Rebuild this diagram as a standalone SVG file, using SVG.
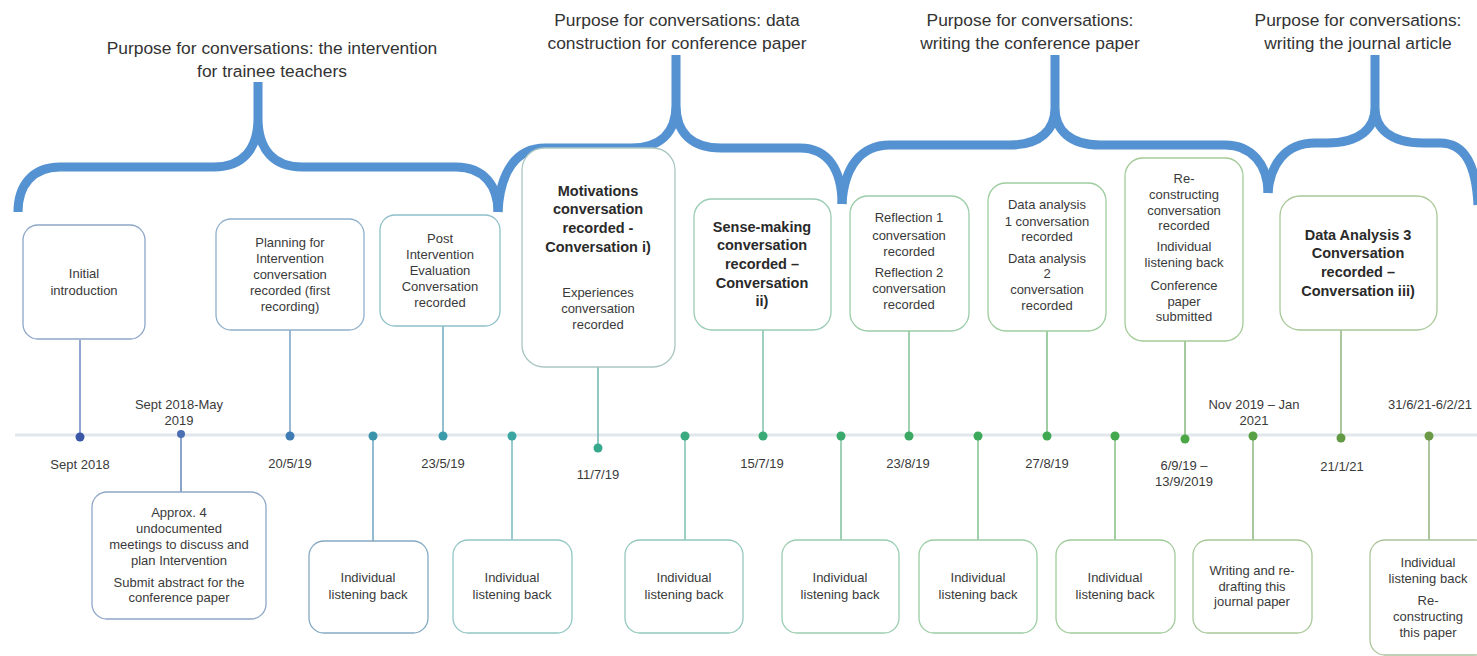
<svg xmlns="http://www.w3.org/2000/svg" width="1477" height="656" viewBox="0 0 1477 656">
<style>
text{font-family:"Liberation Sans",Arial,sans-serif;fill:#3a3a3a;text-anchor:middle}
.t{font-size:17.4px;fill:#333}
.n{font-size:13px}
.b{font-size:14.5px;font-weight:bold;fill:#2a2a2a}
.d{font-size:13px}
.box{fill:#fff;stroke-width:1.3}
.brace{fill:none;stroke:#5592d2;stroke-width:9;stroke-linecap:butt;stroke-linejoin:round}
.con line{stroke-width:1.5}
</style>
<rect width="1477" height="656" fill="#fff"/>
<g id="braces">
<path class="brace" d="M18,212 C18,186 32,167 60,167 L214,167 C242,167 258,150 258,118 M258,124 L258,82 M258,118 C258,150 274,167 302,167 L456,167 C484,167 498,186 498,212"/>
<path class="brace" d="M498,212 C500,172 516,148 545,148 L631,148 C660,148 676,133 676,105 M676,110 L676,55 M676,105 C676,133 692,148 721,148 L800,148 C828,148 842,170 842,204"/>
<path class="brace" d="M842,204 C844,168 860,145 890,145 L1010,145 C1040,145 1055,130 1055,108 M1055,112 L1055,55 M1055,108 C1055,130 1070,145 1100,145 L1225,145 C1252,145 1268,165 1268,193"/>
<path class="brace" d="M1268,193 C1270,165 1285,143 1315,143 L1327,143 C1360,143 1375,128 1375,108 M1375,112 L1375,55 M1375,108 C1375,128 1390,143 1423,143 L1440,143 C1465,143 1476,165 1478,205"/>
</g>
<g id="titles">
<text class="t" x="272" y="54">Purpose for conversations: the intervention</text>
<text class="t" x="272" y="77">for trainee teachers</text>
<text class="t" x="677" y="26">Purpose for conversations: data</text>
<text class="t" x="677" y="49">construction for conference paper</text>
<text class="t" x="1030" y="26">Purpose for conversations:</text>
<text class="t" x="1030" y="49">writing the conference paper</text>
<text class="t" x="1358" y="26">Purpose for conversations:</text>
<text class="t" x="1358" y="49">writing the journal article</text>
</g>
<line id="timeline" x1="15" y1="435" x2="1477" y2="435" stroke="#e2e7eb" stroke-width="3"/>
<g id="connectors" class="con">
<line x1="80" y1="340" x2="80" y2="436" stroke="#6d88c2"/>
<line x1="181" y1="434" x2="181" y2="492" stroke="#6583b8"/>
<line x1="290" y1="330" x2="290" y2="436" stroke="#7aa0c4"/>
<line x1="373" y1="436" x2="373" y2="541" stroke="#6fa4bf"/>
<line x1="443" y1="326" x2="443" y2="436" stroke="#6eaabd"/>
<line x1="512" y1="436" x2="512" y2="540" stroke="#78b8bb"/>
<line x1="598" y1="367" x2="598" y2="448" stroke="#6db4ae"/>
<line x1="685" y1="436" x2="685" y2="540" stroke="#7cc0b0"/>
<line x1="763" y1="330" x2="763" y2="436" stroke="#7cc0a8"/>
<line x1="841" y1="436" x2="841" y2="540" stroke="#7ec29e"/>
<line x1="909" y1="331" x2="909" y2="436" stroke="#7fc296"/>
<line x1="978" y1="436" x2="978" y2="540" stroke="#80c290"/>
<line x1="1047" y1="331" x2="1047" y2="436" stroke="#7ebe86"/>
<line x1="1115" y1="436" x2="1115" y2="540" stroke="#84be84"/>
<line x1="1185" y1="341" x2="1185" y2="439" stroke="#86ba7e"/>
<line x1="1253" y1="436" x2="1253" y2="540" stroke="#8ab67e"/>
<line x1="1341" y1="330" x2="1341" y2="438" stroke="#8eb47e"/>
<line x1="1429" y1="436" x2="1429" y2="540" stroke="#92b080"/>
</g>
<g id="dots">
<circle cx="80" cy="437" r="4.5" fill="#3b56a6"/>
<circle cx="181" cy="434" r="4" fill="#4a6fb2"/>
<circle cx="290" cy="436" r="4.5" fill="#3f7bb5"/>
<circle cx="373" cy="436" r="4.5" fill="#3a95ab"/>
<circle cx="443" cy="436" r="4.5" fill="#3a9bab"/>
<circle cx="512" cy="436" r="4.5" fill="#3aa6a2"/>
<circle cx="598" cy="448" r="4.5" fill="#36a88c"/>
<circle cx="685" cy="436" r="4.5" fill="#3aaa80"/>
<circle cx="763" cy="436" r="4.5" fill="#3aaa76"/>
<circle cx="841" cy="436" r="4.5" fill="#3aaa6c"/>
<circle cx="909" cy="436" r="4.5" fill="#3aa862"/>
<circle cx="978" cy="436" r="4.5" fill="#3ca85a"/>
<circle cx="1047" cy="436" r="4.5" fill="#3ea852"/>
<circle cx="1115" cy="436" r="4.5" fill="#44a84c"/>
<circle cx="1185" cy="439" r="4.5" fill="#4ca646"/>
<circle cx="1253" cy="436" r="4.5" fill="#58a044"/>
<circle cx="1341" cy="438" r="4.5" fill="#629a44"/>
<circle cx="1429" cy="436" r="4.5" fill="#6a9a46"/>
</g>
<g id="dates">
<text class="d" x="80" y="469">Sept 2018</text>
<text class="d" x="179" y="409">Sept 2018-May</text>
<text class="d" x="179" y="425">2019</text>
<text class="d" x="290" y="468">20/5/19</text>
<text class="d" x="443" y="468">23/5/19</text>
<text class="d" x="598" y="479">11/7/19</text>
<text class="d" x="762" y="468">15/7/19</text>
<text class="d" x="908" y="468">23/8/19</text>
<text class="d" x="1047" y="468">27/8/19</text>
<text class="d" x="1184" y="470">6/9/19 –</text>
<text class="d" x="1184" y="486">13/9/2019</text>
<text class="d" x="1254" y="409">Nov 2019 – Jan</text>
<text class="d" x="1254" y="425">2021</text>
<text class="d" x="1342" y="471">21/1/21</text>
<text class="d" x="1430" y="409">31/6/21-6/2/21</text>
</g>
<g id="n-initial">
<rect class="box" x="23" y="225" width="122" height="114" rx="15" stroke="#8da6c8"/>
<text class="n" x="84" y="278">Initial</text>
<text class="n" x="84" y="295">introduction</text>
</g>
<g id="n-approx">
<rect class="box" x="92" y="492" width="174" height="127" rx="15" stroke="#8ea6c6"/>
<text class="n" x="179" y="517">Approx. 4</text>
<text class="n" x="179" y="533">undocumented</text>
<text class="n" x="179" y="549">meetings to discuss and</text>
<text class="n" x="179" y="565">plan Intervention</text>
<text class="n" x="179" y="587">Submit abstract for the</text>
<text class="n" x="179" y="602">conference paper</text>
</g>
<g id="n-planning">
<rect class="box" x="216" y="219" width="148" height="111" rx="15" stroke="#8fb0cc"/>
<text class="n" x="290" y="247">Planning for</text>
<text class="n" x="290" y="263">Intervention</text>
<text class="n" x="290" y="279">conversation</text>
<text class="n" x="290" y="295">recorded (first</text>
<text class="n" x="290" y="311">recording)</text>
</g>
<g id="n-ilb1">
<rect class="box" x="309" y="541" width="119" height="92" rx="15" stroke="#85a8c2"/>
<text class="n" x="368" y="582">Individual</text>
<text class="n" x="368" y="599">listening back</text>
</g>
<g id="n-post">
<rect class="box" x="380" y="215" width="120" height="111" rx="15" stroke="#8fc0ca"/>
<text class="n" x="440" y="243">Post</text>
<text class="n" x="440" y="259">Intervention</text>
<text class="n" x="440" y="275">Evaluation</text>
<text class="n" x="440" y="291">Conversation</text>
<text class="n" x="440" y="307">recorded</text>
</g>
<g id="n-ilb2">
<rect class="box" x="453" y="540" width="119" height="93" rx="15" stroke="#92c6c4"/>
<text class="n" x="512" y="582">Individual</text>
<text class="n" x="512" y="599">listening back</text>
</g>
<g id="n-motivations">
<rect class="box" x="522" y="148" width="153" height="219" rx="22" stroke="#aac6c2"/>
<text class="b" x="598" y="196">Motivations</text>
<text class="b" x="598" y="214">conversation</text>
<text class="b" x="598" y="233">recorded -</text>
<text class="b" x="598" y="252">Conversation i)</text>
<text class="n" x="598" y="297">Experiences</text>
<text class="n" x="598" y="313">conversation</text>
<text class="n" x="598" y="329">recorded</text>
</g>
<g id="n-ilb3">
<rect class="box" x="625" y="540" width="118" height="93" rx="15" stroke="#94c8bc"/>
<text class="n" x="684" y="582">Individual</text>
<text class="n" x="684" y="599">listening back</text>
</g>
<g id="n-sensemaking">
<rect class="box" x="694" y="199" width="137" height="131" rx="18" stroke="#9accb6"/>
<text class="b" x="762" y="232">Sense-making</text>
<text class="b" x="762" y="250">conversation</text>
<text class="b" x="762" y="269">recorded –</text>
<text class="b" x="762" y="288">Conversation</text>
<text class="b" x="762" y="306">ii)</text>
</g>
<g id="n-ilb4">
<rect class="box" x="782" y="540" width="117" height="93" rx="15" stroke="#9acdb0"/>
<text class="n" x="840" y="582">Individual</text>
<text class="n" x="840" y="599">listening back</text>
</g>
<g id="n-reflection">
<rect class="box" x="850" y="196" width="119" height="135" rx="18" stroke="#9ccca8"/>
<text class="n" x="909" y="222">Reflection 1</text>
<text class="n" x="909" y="240">conversation</text>
<text class="n" x="909" y="256">recorded</text>
<text class="n" x="909" y="277">Reflection 2</text>
<text class="n" x="909" y="293">conversation</text>
<text class="n" x="909" y="309">recorded</text>
</g>
<g id="n-ilb5">
<rect class="box" x="919" y="540" width="118" height="93" rx="15" stroke="#9ccda4"/>
<text class="n" x="978" y="582">Individual</text>
<text class="n" x="978" y="599">listening back</text>
</g>
<g id="n-dataanalysis">
<rect class="box" x="988" y="183" width="118" height="148" rx="18" stroke="#9ecd9e"/>
<text class="n" x="1047" y="209">Data analysis</text>
<text class="n" x="1047" y="226">1 conversation</text>
<text class="n" x="1047" y="241">recorded</text>
<text class="n" x="1047" y="263">Data analysis</text>
<text class="n" x="1047" y="278">2</text>
<text class="n" x="1047" y="294">conversation</text>
<text class="n" x="1047" y="310">recorded</text>
</g>
<g id="n-ilb6">
<rect class="box" x="1056" y="540" width="119" height="93" rx="15" stroke="#a0cc9a"/>
<text class="n" x="1115" y="582">Individual</text>
<text class="n" x="1115" y="599">listening back</text>
</g>
<g id="n-reconstructing">
<rect class="box" x="1125" y="158" width="118" height="183" rx="18" stroke="#a4cc98"/>
<text class="n" x="1184" y="183">Re-</text>
<text class="n" x="1184" y="199">constructing</text>
<text class="n" x="1184" y="215">conversation</text>
<text class="n" x="1184" y="230">recorded</text>
<text class="n" x="1184" y="251">Individual</text>
<text class="n" x="1184" y="267">listening back</text>
<text class="n" x="1184" y="290">Conference</text>
<text class="n" x="1184" y="306">paper</text>
<text class="n" x="1184" y="321">submitted</text>
</g>
<g id="n-writing">
<rect class="box" x="1193" y="540" width="119" height="93" rx="15" stroke="#a8c898"/>
<text class="n" x="1252" y="575">Writing and re-</text>
<text class="n" x="1252" y="591">drafting this</text>
<text class="n" x="1252" y="606">journal paper</text>
</g>
<g id="n-da3">
<rect class="box" x="1280" y="196" width="157" height="134" rx="20" stroke="#a8c898"/>
<text class="b" x="1358" y="240">Data Analysis 3</text>
<text class="b" x="1358" y="258">Conversation</text>
<text class="b" x="1358" y="277">recorded –</text>
<text class="b" x="1358" y="296">Conversation iii)</text>
</g>
<g id="n-ilb7">
<rect class="box" x="1370" y="540" width="120" height="115" rx="15" stroke="#acc49c"/>
<text class="n" x="1428" y="567">Individual</text>
<text class="n" x="1428" y="583">listening back</text>
<text class="n" x="1428" y="605">Re-</text>
<text class="n" x="1428" y="621">constructing</text>
<text class="n" x="1428" y="637">this paper</text>
</g>
</svg>
